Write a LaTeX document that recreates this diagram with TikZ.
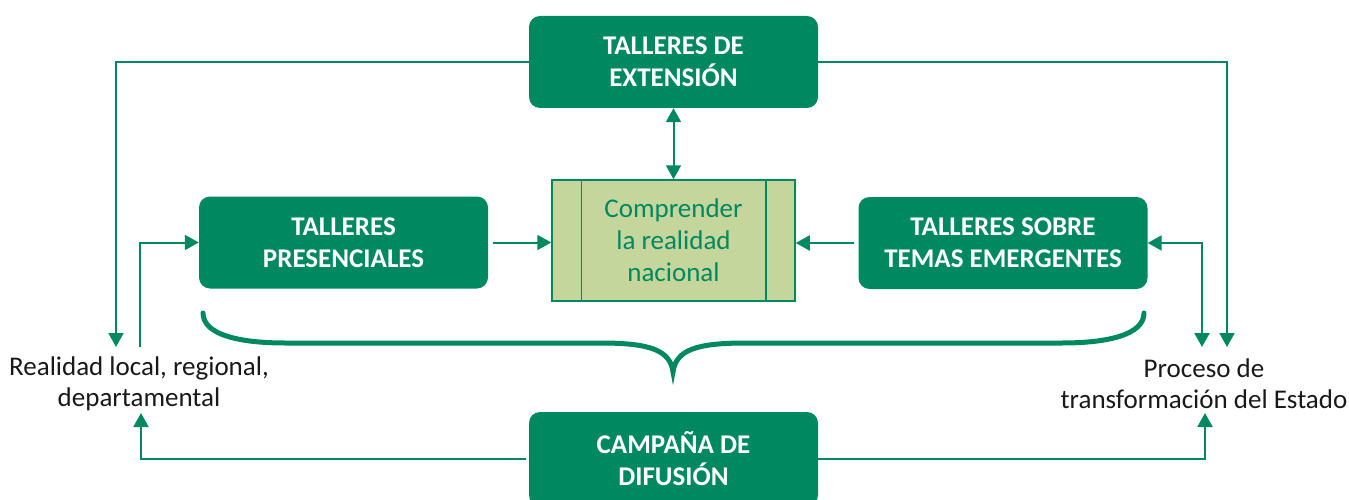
\documentclass[tikz,border=0pt]{standalone}
\usepackage{fontspec}
\setmainfont{Carlito}
\usetikzlibrary{arrows.meta}
\definecolor{dg}{RGB}{0,136,96}
\definecolor{lg}{RGB}{196,214,155}
\tikzset{
  box/.style={rounded corners=11pt, fill=dg, text=white, font=\bfseries\fontsize{27}{32}\selectfont,
    align=center, minimum width=289pt, minimum height=92pt, inner sep=0pt},
  txt/.style={font=\fontsize{27}{31}\selectfont, align=center, inner sep=0pt, text=black!90},
  conn/.style={draw=dg, line width=2pt, -{Triangle[length=14pt,width=15pt]}},
  dconn/.style={draw=dg, line width=2pt, {Triangle[length=14pt,width=15pt]}-{Triangle[length=14pt,width=15pt]}},
  brace/.style={draw=dg, line width=5pt, line cap=round}
}
\begin{document}
\begin{tikzpicture}[x=1pt,y=-1pt]
\useasboundingbox (0,0) rectangle (1349,500);
\node[box] (ext) at (673.5,62) {TALLERES DE\\EXTENSIÓN};
\node[box] (pres) at (343.5,242.5) {TALLERES\\PRESENCIALES};
\node[box] (emer) at (1003,243) {TALLERES SOBRE\\TEMAS EMERGENTES};
\node[box, minimum height=94pt] (camp) at (673.5,459) {CAMPAÑA DE\\DIFUSIÓN};
\node[draw=dg, fill=lg, line width=1.5pt, minimum width=243pt, minimum height=121pt,
  inner sep=0pt, align=center, text=dg, font=\fontsize{27}{32}\selectfont] (comp) at (673.5,240.5)
  {Comprender\\la realidad\\nacional};
\draw[dg, line width=1.5pt] ([xshift=30pt]comp.north west) -- ([xshift=30pt]comp.south west);
\draw[dg, line width=1.5pt] ([xshift=-30pt]comp.north east) -- ([xshift=-30pt]comp.south east);
\node[txt] (real) at (139,384) {Realidad local, regional,\\departamental};
\node[txt] (proc) at (1204,384) {Proceso de\\transformación del Estado};
\coordinate (rtop) at (116,347);
\coordinate (rup) at (140,347);
\coordinate (rbot) at (141,413);
\coordinate (ptop) at (1227,347);
\coordinate (pmid) at (1202,347);
\coordinate (pbot) at (1205,413);
\draw[conn] (ext.west) -| (rtop);
\draw[conn] (ext.east) -| (ptop);
\draw[conn] (rup) |- (pres.west);
\draw[dconn] (emer.east) -| (pmid);
\draw[dconn] (ext.south) -- (comp.north);
\draw[conn] ([xshift=5pt]pres.east) -- (pres.east -| comp.west);
\draw[conn] ([xshift=-4pt]emer.west) -- (emer.west -| comp.east);
\draw[conn] ([xshift=-3pt]camp.west) -| (rbot);
\draw[conn] (camp.east) -| (pbot);
\draw[brace] (203,313) .. controls (203,335) and (240,343) .. (285,343) -- (600,343)
  .. controls (650,343) and (670,350) .. (673,372) .. controls (676,350) and (696,343) .. (746,343)
  -- (1062,343) .. controls (1107,343) and (1144,335) .. (1144,313);
\end{tikzpicture}
\end{document}
